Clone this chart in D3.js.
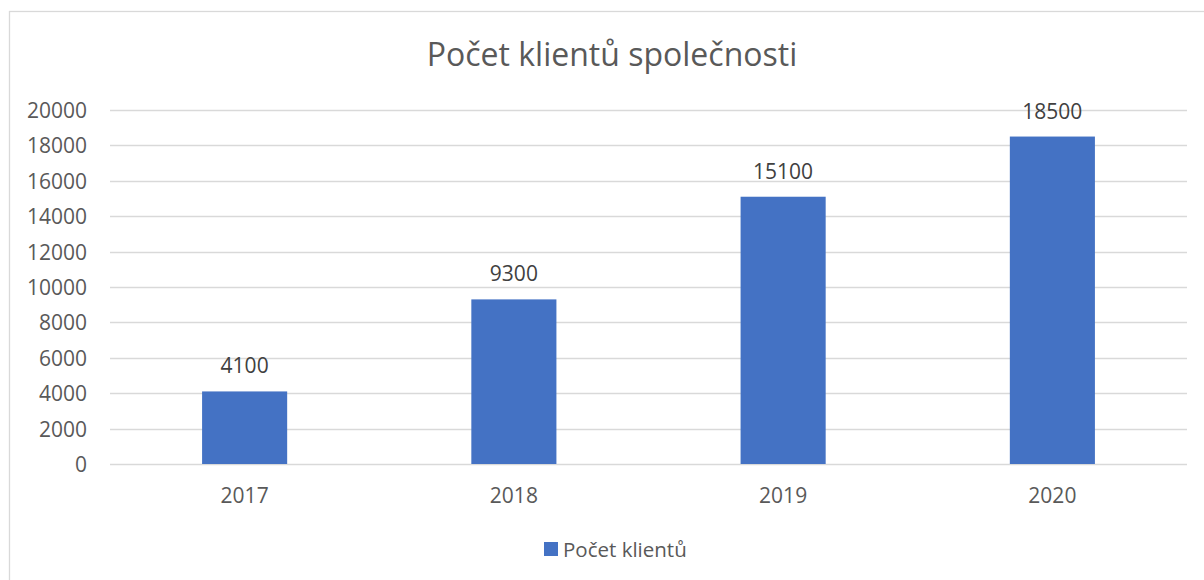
<!DOCTYPE html>
<html><head><meta charset="utf-8">
<script src="https://cdn.jsdelivr.net/npm/d3@7"></script>
<style>html,body{margin:0;padding:0;background:#fff;}svg{display:block;}</style>
</head><body>
<script>
const categories = ["2017", "2018", "2019", "2020"];
const values = [4100, 9300, 15100, 18500];
const yTicks = [0, 2000, 4000, 6000, 8000, 10000, 12000, 14000, 16000, 18000, 20000];
const title = "Počet klientů společnosti";
const seriesName = "Počet klientů";

const W = 1204, H = 580;
const FONT = "'Open Sans', 'Noto Sans', sans-serif";
const svg = d3.select("body").append("svg").attr("width", W).attr("height", H);

svg.append("rect").attr("x", 9.5).attr("y", 11.5).attr("width", 1300).attr("height", 700)
  .attr("fill", "#fff").attr("stroke", "#d9d9d9").attr("stroke-width", 1.3);

const x = d3.scaleBand().domain(categories).range([110, 1187]).padding(0);
const y = d3.scaleLinear().domain([0, 20000]).range([464, 110]);

svg.append("text").attr("x", 612).attr("y", 66).attr("text-anchor", "middle")
  .attr("font-family", FONT).attr("font-size", 32).attr("fill", "#595959").text(title);

const grid = svg.append("g");
grid.selectAll("line").data(yTicks).join("line")
  .attr("x1", 110).attr("x2", 1187)
  .attr("y1", d => Math.round(y(d)) + 0.5).attr("y2", d => Math.round(y(d)) + 0.5)
  .attr("stroke", "#d9d9d9").attr("stroke-width", 1.5);

const yAxis = d3.axisLeft(y).tickValues(yTicks).tickSize(0).tickPadding(0).tickFormat(d3.format("d"));
const ya = svg.append("g").attr("transform", "translate(87,0)").call(yAxis);
ya.select(".domain").remove();
ya.selectAll("text").attr("font-family", FONT).attr("font-size", 21).attr("fill", "#595959").attr("dy", "0.36em");

const barW = x.bandwidth() * 0.316;
svg.append("g").selectAll("rect").data(values).join("rect")
  .attr("x", (d, i) => x(categories[i]) + x.bandwidth() / 2 - barW / 2)
  .attr("width", barW)
  .attr("y", d => y(d))
  .attr("height", d => y(0) - y(d))
  .attr("fill", "#4472c4");

svg.append("g").selectAll("text").data(values).join("text")
  .attr("x", (d, i) => x(categories[i]) + x.bandwidth() / 2)
  .attr("y", d => y(d) - 18)
  .attr("text-anchor", "middle")
  .attr("font-family", FONT).attr("font-size", 21).attr("fill", "#404040")
  .text(d => d);

const xAxis = d3.axisBottom(x).tickSize(0).tickPadding(0);
const xa = svg.append("g").attr("transform", "translate(0,503)").call(xAxis);
xa.select(".domain").remove();
xa.selectAll("text").attr("font-family", FONT).attr("font-size", 21).attr("fill", "#595959").attr("dy", "0");

const leg = svg.append("g");
leg.append("rect").attr("x", 544).attr("y", 542).attr("width", 14).attr("height", 14).attr("fill", "#4472c4");
leg.append("text").attr("x", 563).attr("y", 557).attr("font-family", FONT).attr("font-size", 20.5)
  .attr("fill", "#595959").text(seriesName);
</script>
</body></html>
